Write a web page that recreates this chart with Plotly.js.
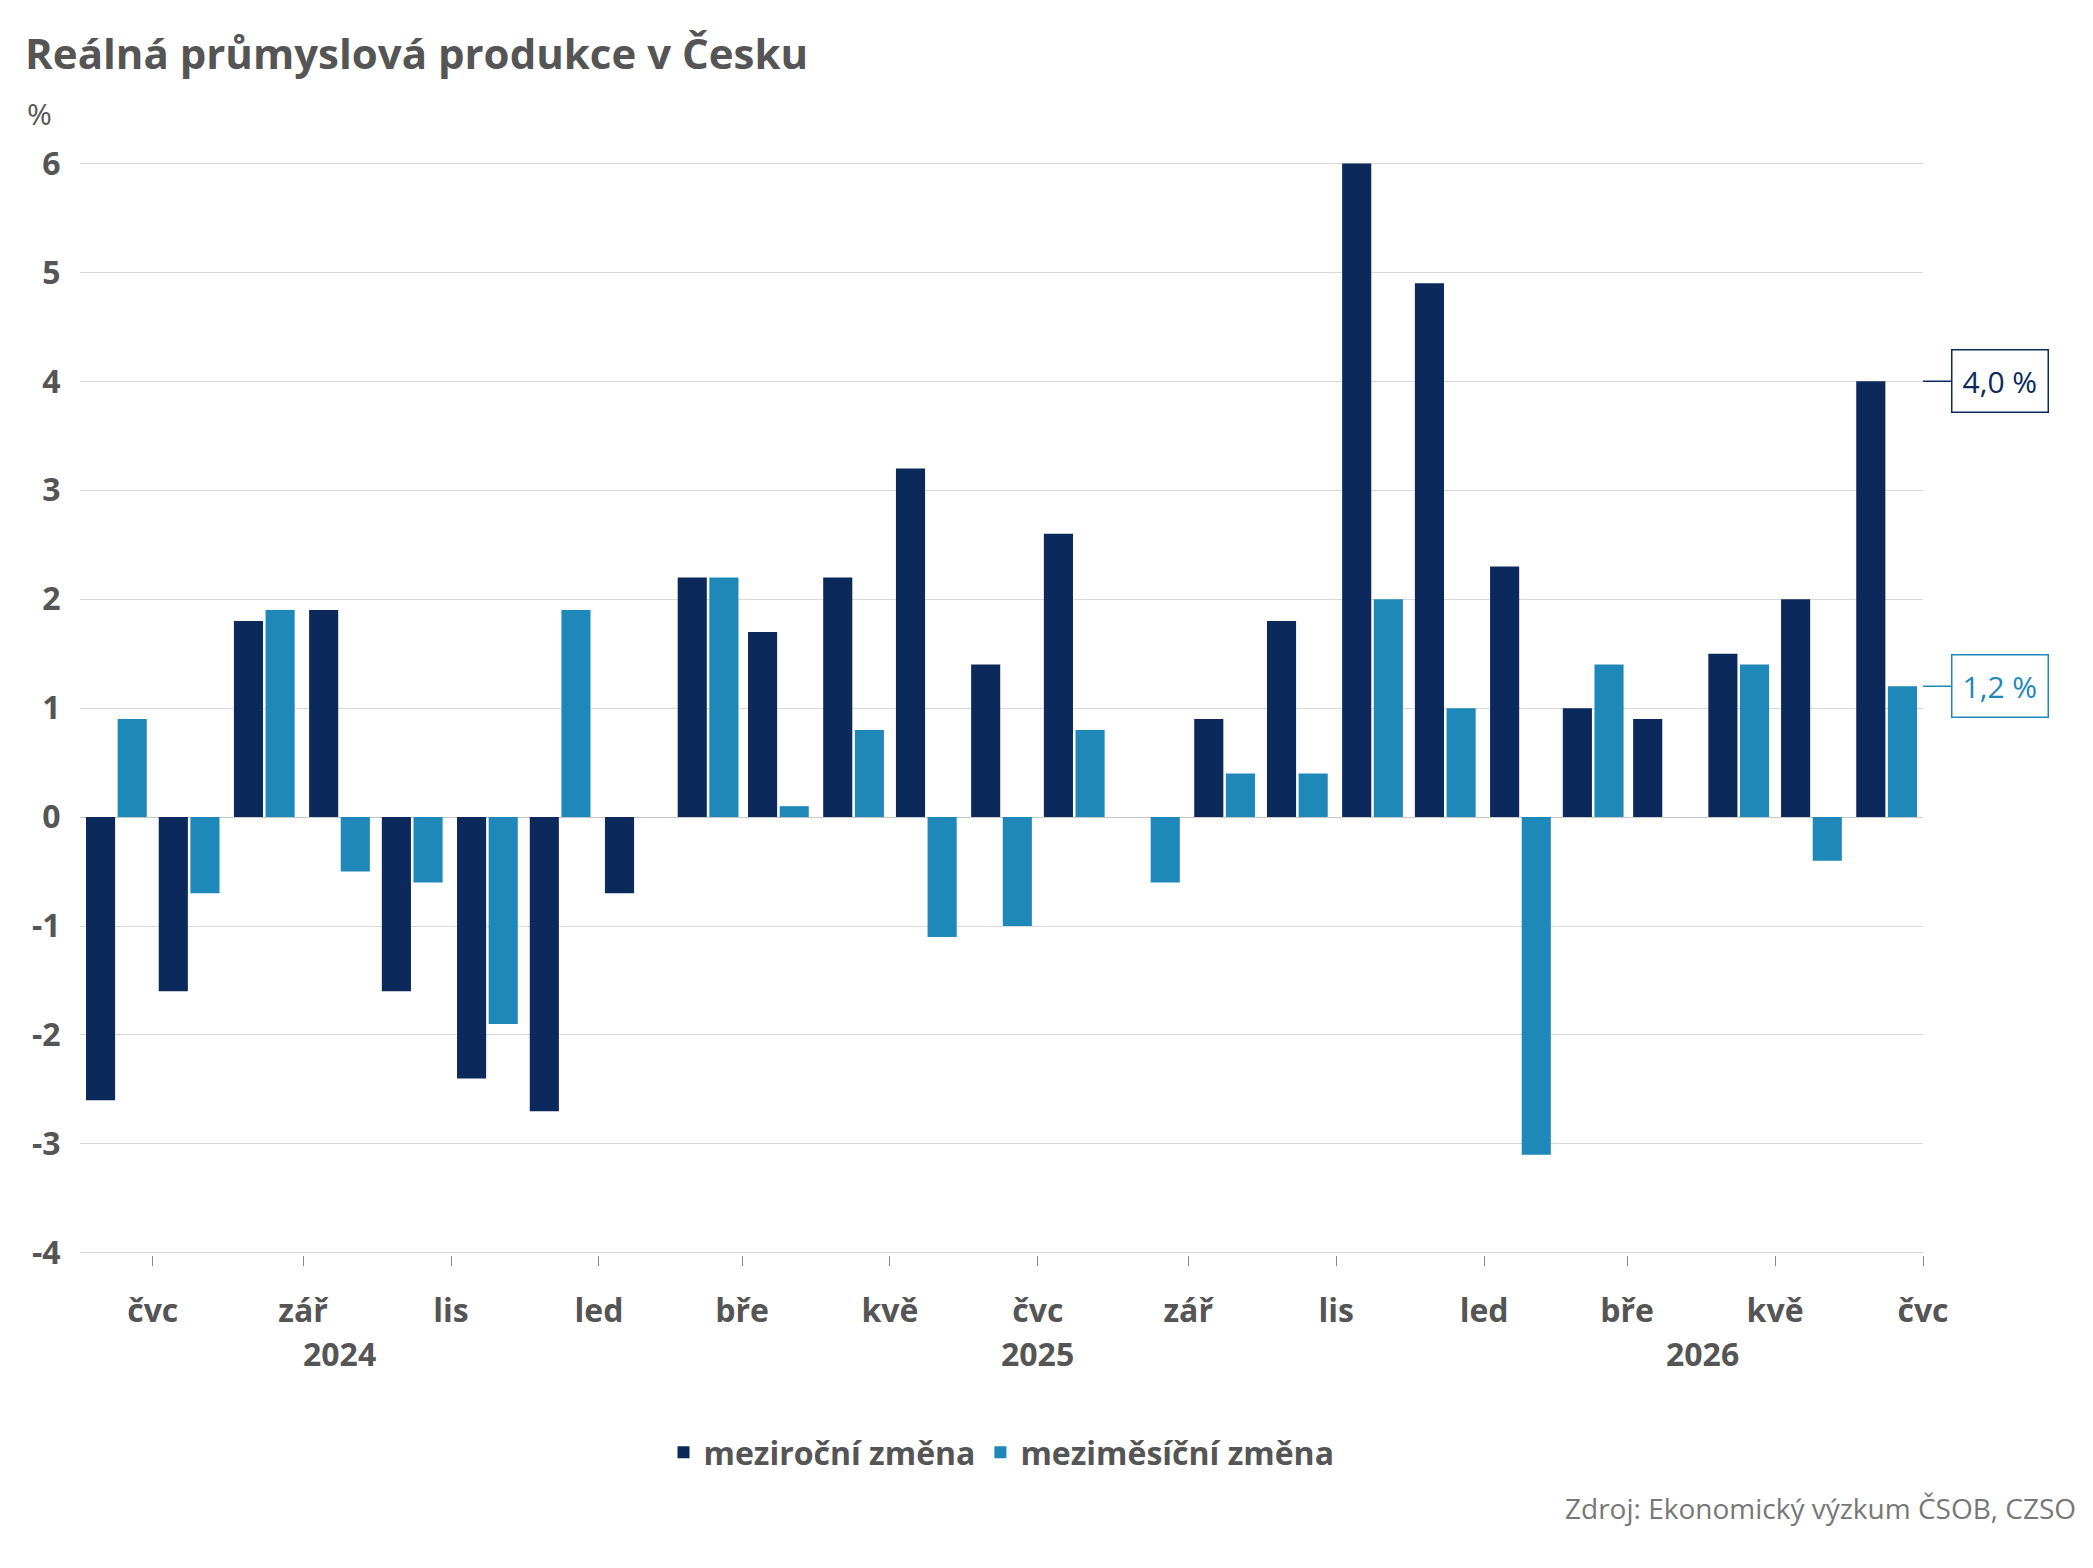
<!DOCTYPE html>
<html>
<head>
<meta charset="utf-8">
<script src="https://cdn.plot.ly/plotly-3.0.1.min.js"></script>
<style>body{margin:0;background:#fff}#chart{width:2093px;height:1568px}</style>
</head>
<body>
<div id="chart"></div>
<script>
var months = ['2024-06-16','2024-07-16','2024-08-16','2024-09-16','2024-10-16','2024-11-16','2024-12-16',
  '2025-01-16','2025-02-15','2025-03-16','2025-04-16','2025-05-16','2025-06-16','2025-07-16','2025-08-16',
  '2025-09-16','2025-10-16','2025-11-16','2025-12-16','2026-01-16','2026-02-15','2026-03-16','2026-04-16',
  '2026-05-16','2026-06-16'];
var yoy = [-2.6,-1.6,1.8,1.9,-1.6,-2.4,-2.7,-0.7,2.2,1.7,2.2,3.2,1.4,2.6,null,0.9,1.8,6.0,4.9,2.3,1.0,0.9,1.5,2.0,4.0];
var mom = [0.9,-0.7,1.9,-0.5,-0.6,-1.9,1.9,null,2.2,0.1,0.8,-1.1,-1.0,0.8,-0.6,0.4,0.4,2.0,1.0,-3.1,1.4,null,1.4,-0.4,1.2];
var tickVals = ['2024-07-01','2024-09-01','2024-11-01','2025-01-01','2025-03-01','2025-05-01','2025-07-01',
  '2025-09-01','2025-11-01','2026-01-01','2026-03-01','2026-05-01','2026-07-01'];
var tickText = ['čvc','zář','lis','led','bře','kvě','čvc','zář','lis','led','bře','kvě','čvc'];
var yTicks = [-4,-3,-2,-1,0,1,2,3,4,5,6];
var yText = ['-4','-3','-2','-1','0','1','2','3','4','5','6'];
var years = ['2024','2025','2026'];
var yearPos = ['2024-09-16','2025-07-01','2026-04-01'];

var dark = '#0b2a5b', light = '#1e88b8';
var font = 'Open Sans, Noto Sans, sans-serif';

var data = [
  {x: months, y: yoy, type: 'bar', name: '<b>meziroční změna</b>', marker: {color: dark}},
  {x: months, y: mom, type: 'bar', name: '<b>meziměsíční změna</b>', marker: {color: light}}
];

var ann = years.map(function (t, i) {
  return {x: yearPos[i], y: 0, xref: 'x', yref: 'paper', yshift: -122, text: '<b>' + t + '</b>',
    showarrow: false, font: {size: 32, color: '#555', family: font}};
});
ann.push({x: 0, y: 1, xref: 'paper', yref: 'paper', xanchor: 'left', yanchor: 'bottom', xshift: -55, yshift: 22,
  text: '%', showarrow: false, font: {size: 30, color: '#555', family: font}});
ann.push({x: 1, y: -0.25, xref: 'paper', yref: 'paper', xanchor: 'right', xshift: 155, text: 'Zdroj: Ekonomický výzkum ČSOB, CZSO',
  showarrow: false, font: {size: 28, color: '#777', family: font}});
ann.push({x: 1, y: 4, xref: 'paper', yref: 'y', ax: 28, ay: 0, text: '4,0 %', showarrow: true, arrowwidth: 1.5,
  arrowcolor: dark, arrowhead: 0, xanchor: 'left', bordercolor: dark, borderwidth: 1.5, borderpad: 10, bgcolor: '#fff',
  font: {size: 30, color: dark, family: font}});
ann.push({x: 1, y: 1.2, xref: 'paper', yref: 'y', ax: 28, ay: 0, text: '1,2 %', showarrow: true, arrowwidth: 1.5,
  arrowcolor: light, arrowhead: 0, xanchor: 'left', bordercolor: light, borderwidth: 1.5, borderpad: 10, bgcolor: '#fff',
  font: {size: 30, color: light, family: font}});

var layout = {
  width: 2093, height: 1568,
  margin: {l: 80, r: 170, t: 158, b: 313},
  paper_bgcolor: '#fff', plot_bgcolor: '#fff',
  font: {family: font, color: '#555'},
  title: {text: '<b>Reálná průmyslová produkce v Česku</b>', x: 0.012, xanchor: 'left', y: 0.975,
    font: {size: 42, color: '#555', family: font}},
  barmode: 'group', bargap: 0.1, bargroupgap: 0.08,
  xaxis: {type: 'date', range: ['2024-06-01', '2026-07-01'], tickvals: tickVals,
    ticktext: tickText.map(function (t) { return '<b>' + t + '</b>'; }),
    ticks: 'outside', ticklen: 10, tickcolor: '#888', showgrid: false, zeroline: false, ticklabelstandoff: 18,
    tickfont: {size: 32, color: '#555', family: font}},
  yaxis: {range: [-4.02, 6.05], tickvals: yTicks, ticktext: yText.map(function (t) { return '<b>' + t + '</b>'; }),
    gridcolor: '#d9d9d9', zeroline: true, zerolinecolor: '#c8c8c8',
    ticks: 'outside', ticklen: 12, tickcolor: '#fff', tickfont: {size: 32, color: '#555', family: font}},
  legend: {orientation: 'h', x: 0.5, xanchor: 'center', y: -0.155, yanchor: 'top',
    font: {size: 32, color: '#555', family: font}},
  annotations: ann,
  showlegend: true
};
Plotly.newPlot('chart', data, layout, {displayModeBar: false});
</script>
</body>
</html>
